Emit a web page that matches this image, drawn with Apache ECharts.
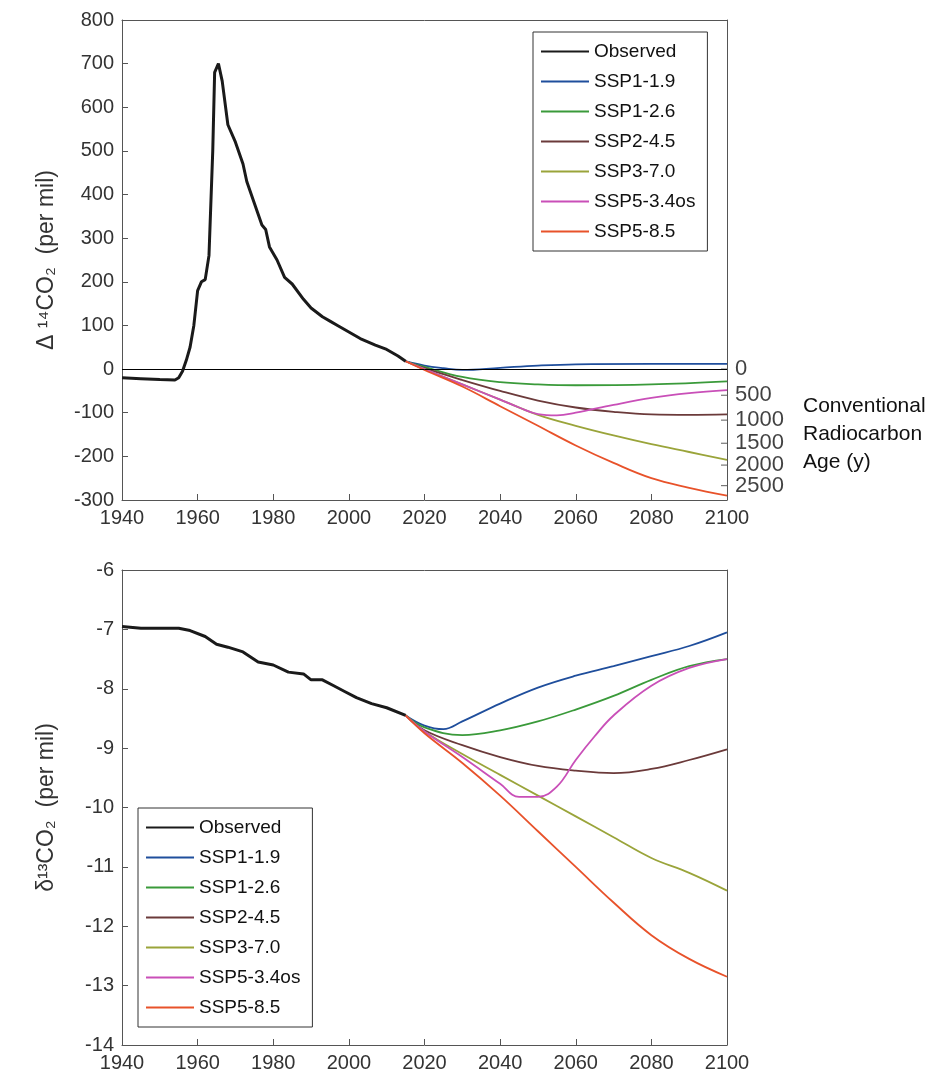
<!DOCTYPE html>
<html><head><meta charset="utf-8">
<script src="https://cdn.jsdelivr.net/npm/echarts@6/dist/echarts.min.js"></script>
<style>body{margin:0;background:#fff}#c{width:944px;height:1080px}</style>
</head><body><div id="c"></div>
<script>
var names = ['Observed', 'SSP1-1.9', 'SSP1-2.6', 'SSP2-4.5', 'SSP3-7.0', 'SSP5-3.4os', 'SSP5-8.5'];
var colors = ['#1a1a1a', '#1f4e9c', '#3a9a3a', '#6b3a3a', '#9aa43a', '#c94fb8', '#e8522a'];

// Delta 14C (per mil)
var obsC14 = [[1940,-20],[1945,-22],[1950,-24],[1954,-25],[1955,-20],[1956,-5],[1957,20],[1958,50],[1959,100],[1960,180],[1961,200],[1962,205],[1963,260],[1964,500],[1964.5,680],[1965.5,700],[1966.5,660],[1968,560],[1970,520],[1972,470],[1973,430],[1975,380],[1977,330],[1978,320],[1979,280],[1981,250],[1983,210],[1985,195],[1988,160],[1990,140],[1993,120],[1995,110],[1997,100],[2000,85],[2003,70],[2007,55],[2010,45],[2013,30],[2015,18]];
var ssp119C14 = [[2015,18],[2020,8],[2025,2],[2030,-2],[2040,3],[2050,8],[2060,11],[2080,12],[2100,12]];
var ssp126C14 = [[2015,18],[2020,5],[2030,-18],[2040,-30],[2050,-35],[2060,-37],[2080,-35],[2100,-28]];
var ssp245C14 = [[2015,18],[2020,2],[2030,-25],[2040,-50],[2050,-72],[2060,-88],[2070,-98],[2080,-104],[2090,-105],[2100,-104]];
var ssp370C14 = [[2015,18],[2020,0],[2030,-35],[2040,-70],[2050,-105],[2060,-130],[2070,-152],[2080,-172],[2090,-190],[2100,-208]];
var ssp534C14 = [[2015,18],[2020,0],[2030,-35],[2040,-70],[2045,-88],[2050,-103],[2055,-106],[2060,-100],[2070,-82],[2080,-66],[2090,-55],[2100,-48]];
var ssp585C14 = [[2015,18],[2020,-2],[2030,-40],[2040,-85],[2050,-130],[2060,-175],[2070,-215],[2080,-250],[2090,-272],[2100,-290]];

// right-hand conventional radiocarbon age labels
var ageLabels = [0, 500, 1000, 1500, 2000, 2500];
var ageValues = [0, -60, -117, -170, -220, -267];

// delta 13C (per mil)
var obsC13 = [[1940,-6.95],[1945,-6.98],[1950,-6.98],[1955,-6.98],[1958,-7.02],[1962,-7.12],[1965,-7.25],[1968,-7.3],[1972,-7.38],[1976,-7.55],[1980,-7.6],[1984,-7.72],[1988,-7.75],[1990,-7.85],[1993,-7.85],[1996,-7.95],[1999,-8.05],[2002,-8.15],[2006,-8.25],[2010,-8.32],[2015,-8.45]];
var ssp119C13 = [[2015,-8.45],[2020,-8.62],[2025,-8.68],[2030,-8.55],[2040,-8.25],[2050,-7.98],[2060,-7.78],[2070,-7.62],[2080,-7.45],[2090,-7.28],[2100,-7.05]];
var ssp126C13 = [[2015,-8.45],[2020,-8.65],[2030,-8.78],[2040,-8.7],[2050,-8.55],[2060,-8.35],[2070,-8.12],[2080,-7.85],[2090,-7.62],[2100,-7.5]];
var ssp245C13 = [[2015,-8.45],[2020,-8.7],[2030,-8.95],[2040,-9.15],[2050,-9.3],[2060,-9.38],[2070,-9.42],[2080,-9.35],[2090,-9.2],[2100,-9.02]];
var ssp370C13 = [[2015,-8.45],[2020,-8.72],[2030,-9.1],[2040,-9.45],[2050,-9.8],[2060,-10.15],[2070,-10.5],[2080,-10.85],[2090,-11.1],[2100,-11.4]];
var ssp534C13 = [[2015,-8.45],[2020,-8.72],[2030,-9.15],[2040,-9.6],[2045,-9.82],[2050,-9.82],[2055,-9.65],[2060,-9.2],[2065,-8.8],[2070,-8.45],[2080,-7.95],[2090,-7.65],[2100,-7.5]];
var ssp585C13 = [[2015,-8.45],[2020,-8.75],[2030,-9.25],[2040,-9.8],[2050,-10.4],[2060,-11.0],[2070,-11.6],[2080,-12.15],[2090,-12.55],[2100,-12.85]];

var topData = [obsC14, ssp119C14, ssp126C14, ssp245C14, ssp370C14, ssp534C14, ssp585C14];
var botData = [obsC13, ssp119C13, ssp126C13, ssp245C13, ssp370C13, ssp534C13, ssp585C13];

var font = 'Helvetica, Arial, "Liberation Sans", sans-serif';
var lineCol = '#555';

function xAx(grid, show) {
    return {
        type: 'value', gridIndex: grid, min: 1940, max: 2100, interval: 20,
        position: show ? 'bottom' : 'top',
        axisLine: { onZero: false, lineStyle: { color: lineCol } },
        axisTick: { show: show, inside: true, length: 6, lineStyle: { color: lineCol } },
        axisLabel: { show: show, color: '#333', fontSize: 20, fontFamily: font, margin: 8,
            formatter: function (v) { return String(v); } },
        splitLine: { show: false }
    };
}
function yAx(grid, min, max, interval, show, name) {
    return {
        type: 'value', gridIndex: grid, min: min, max: max, interval: interval,
        position: show ? 'left' : 'right',
        name: show ? name : '', nameLocation: 'middle', nameGap: 64, nameRotate: 90,
        nameTextStyle: { color: '#333', fontSize: 23, fontFamily: font },
        axisLine: { onZero: false, lineStyle: { color: lineCol } },
        axisTick: { show: show, inside: true, length: 6, lineStyle: { color: lineCol } },
        axisLabel: { show: show, color: '#333', fontSize: 20, fontFamily: font, margin: 8 },
        splitLine: { show: false }
    };
}

var series = [];
names.forEach(function (n, i) {
    series.push({
        name: n, type: 'line', xAxisIndex: 0, yAxisIndex: 0, data: topData[i],
        showSymbol: false, smooth: i > 0 ? 0.4 : false, z: i === 0 ? 5 : 3,
        lineStyle: { color: colors[i], width: i === 0 ? 3 : 1.8 }, itemStyle: { color: colors[i] },
        markLine: i === 0 ? { silent: true, symbol: 'none', label: { show: false },
            lineStyle: { color: '#000', width: 1, type: 'solid' }, data: [{ yAxis: 0 }] } : undefined
    });
    series.push({
        name: n, type: 'line', xAxisIndex: 2, yAxisIndex: 2, data: botData[i],
        showSymbol: false, smooth: i > 0 ? 0.4 : false, z: i === 0 ? 5 : 3,
        lineStyle: { color: colors[i], width: i === 0 ? 3 : 1.8 }, itemStyle: { color: colors[i] }
    });
});
series.push({
    type: 'scatter', xAxisIndex: 0, yAxisIndex: 0, clip: false, silent: true,
    symbol: 'rect', symbolSize: [6, 1.2], symbolOffset: [-3, 0], itemStyle: { color: lineCol },
    data: ageValues.map(function (v, i) { return { value: [2100, v], label: { formatter: String(ageLabels[i]) } }; }),
    label: { show: true, position: 'right', distance: 8, color: '#111', fontSize: 22, fontFamily: font }
});

var legendBase = {
    orient: 'vertical', data: names, itemWidth: 48, itemHeight: 10, itemGap: 11, height: 400,
    backgroundColor: '#fff', borderColor: '#333', borderWidth: 1, padding: [10, 12, 10, 8],
    icon: 'path://M0,4 L44,4 L44,6 L0,6 Z',
    textStyle: { color: '#111', fontSize: 19, fontFamily: font }
};

var chart = echarts.init(document.getElementById('c'));
chart.setOption({
    backgroundColor: '#fff',
    animation: false,
    grid: [
        { left: 122, width: 605, top: 20, height: 480 },
        { left: 122, width: 605, top: 570, height: 475 }
    ],
    xAxis: [xAx(0, true), xAx(0, false), xAx(1, true), xAx(1, false)],
    yAxis: [
        yAx(0, -300, 800, 100, true, 'Δ ¹⁴CO₂  (per mil)'), yAx(0, -300, 800, 100, false),
        yAx(1, -14, -6, 1, true, 'δ¹³CO₂  (per mil)'), yAx(1, -14, -6, 1, false)
    ],
    legend: [
        Object.assign({}, legendBase, { left: 533, top: 32 }),
        Object.assign({}, legendBase, { left: 138, top: 808 })
    ],
    graphic: [{
        type: 'text', left: 803, top: 392,
        style: { text: 'Conventional\nRadiocarbon\nAge (y)', fill: '#111', font: '21px ' + font, lineHeight: 28 }
    }],
    series: series
});
</script></body></html>
